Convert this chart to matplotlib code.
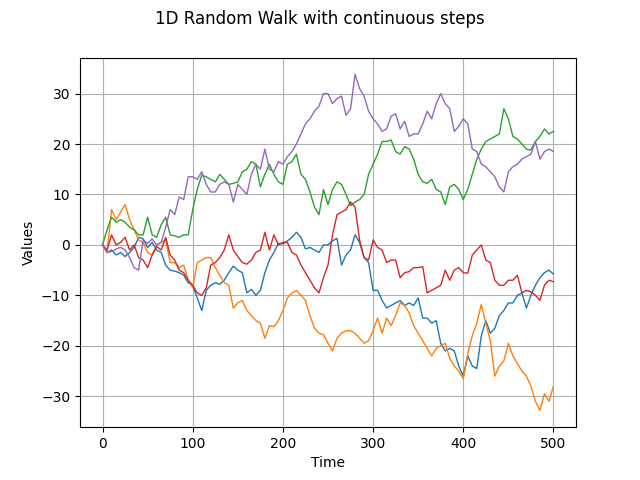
import numpy as np
import matplotlib
matplotlib.use("Agg")
import matplotlib.pyplot as plt

time = list(range(0, 501, 5))

walk_blue = [0, -1.5, -1, -2, -1.5, -2.3, -1.5, -0.5, 1.5, 1.2,
             -0.5, 0.5, -1, -1.5, -4, -5, -5.2, -5.5, -6, -7.5,
             -8, -10.5, -13, -9, -8, -7.5, -7.8, -7, -5.5, -4.2,
             -5, -5.5, -9.5, -8.8, -10, -9, -5.5, -3, -1.5, 0.3,
             0.2, 0.8, 1.5, 2.5, 1.5, -0.8, -0.5, -1, -1.5, 0,
             0, 0.8, 1.3, -4, -2, -1, 2, 0.5, -2.5, -3.5,
             -9, -9, -11, -12.5, -12, -11.5, -11, -12, -11.5, -12,
             -10.5, -14.5, -14.5, -15.5, -15, -19.5, -21, -20.5, -21, -24,
             -26, -22, -24, -24.5, -18, -15, -17.5, -16.5, -14, -13,
             -11.5, -11.5, -10, -9.5, -12.5, -10, -8, -6.5, -5.5, -5,
             -5.8]

walk_orange = [0, -1.5, 7, 5, 6.5, 8, 5, 3, 1, 0.5,
               -1.5, -2, 0, 0.5, 1, -3.5, -3.5, -4.5, -4, -7,
               -8.5, -3.5, -3, -2.5, -2.5, -4.5, -6, -7.5, -8, -12.5,
               -11.5, -11, -13, -14, -15, -15.5, -18.5, -16, -16.2, -15,
               -13, -10.5, -9.5, -9, -10, -11, -14, -16.5, -17.5, -17.8,
               -19.5, -21, -18.5, -17.5, -17, -17, -17.5, -18.5, -19.5, -19,
               -17, -14.5, -17.5, -14.5, -16, -14, -11.5, -12, -13.5, -16,
               -17.5, -19, -20.5, -22, -20.5, -20, -19.5, -22.5, -24, -25,
               -26.5, -21.5, -18, -15.5, -11.8, -15.5, -19, -26, -24, -23,
               -19.5, -22, -23.5, -25, -26, -28, -31, -32.8, -29.5, -31,
               -28]

walk_green = [0, 3, 5.5, 4.5, 5, 4.5, 3.5, 3, 2, 2,
              5.5, 2, 1.5, 4, 5.5, 2, 1.8, 1.5, 2, 2,
              7, 11, 13.8, 13.5, 13, 12.5, 14, 13, 12, 12.2,
              12.5, 14.5, 15, 16.5, 16, 11.5, 14, 16, 14, 12.5,
              12, 16, 16.5, 18, 14, 13, 10.5, 7.5, 6, 11,
              8, 11, 12.5, 12, 10, 7.8, 8.5, 9, 10, 14,
              16, 18, 20.5, 20.5, 20.8, 18.5, 18, 19.5, 19, 17,
              14, 12.5, 12.2, 13, 11, 10.5, 8, 11.5, 12, 11,
              9, 11, 14, 17, 19, 20.5, 21, 21.5, 22, 27,
              25, 21.5, 21, 20, 19, 18.8, 20.5, 21.5, 23, 22,
              22.5]

walk_red = [0, -1, 2, 0, 0.5, 1.5, -1, 0, -2.5, -3,
            -4.5, -2, -0.3, -1, 1.5, -2, -3, -5, -5.5, -7,
            -8, -9.5, -10, -8.5, -4, -3.5, -2.5, -1, 2, -1,
            -2.3, -3.5, -3.8, -3, -1.5, -1, 2.5, -1, 2, 0,
            0.5, 0.5, -1.5, -2, -4, -5.5, -7, -8.5, -9.5, -6.5,
            -4, 2, 6, 6.5, 7, 8.5, 7.5, 1, -2.5, -3,
            1, -0.5, -1, -3.5, -3, -3, -6.5, -5.5, -5.3, -4.5,
            -4.5, -4.3, -9.5, -9, -8.5, -8, -5, -7, -5, -4.5,
            -5.5, -5.6, -2, -1, 0, -3, -3.5, -7, -8, -8,
            -7, -7, -6, -9.5, -9, -9.3, -10, -11, -8, -7,
            -7.3]

walk_purple = [0, -1.5, -1.3, -0.8, -0.5, -1, -2.5, -4.5, -5, 1,
               0.3, 1.2, 0, 0.5, 3.5, 7, 6, 9.5, 9, 13.5,
               13.5, 13, 14.5, 12, 10.5, 10.5, 12, 12.5, 12, 8.5,
               12, 11, 10, 14, 16, 15, 19, 15, 14.5, 16.5,
               16, 17.5, 18.5, 20, 22, 24, 25, 26.5, 27.5, 30,
               30, 28, 29, 29.5, 25.7, 27, 33.8, 31, 29.5, 26.5,
               25, 24, 22.5, 23, 25.5, 26, 23, 24.5, 21.5, 22,
               22, 24, 26.5, 25, 28, 30, 28, 27, 22.5, 23.5,
               25, 24, 19, 18.5, 16, 15.5, 14.5, 13.5, 11.5, 10.5,
               14.5, 15.5, 16, 17, 17.5, 18, 20.5, 17, 18.5, 19,
               18.5]

series = [walk_blue, walk_orange, walk_green, walk_red, walk_purple]

fig, ax = plt.subplots(figsize=(6.4, 4.8), dpi=100)
for s in series:
    ax.plot(time, s, linewidth=1.0)
fig.suptitle("1D Random Walk with continuous steps")
ax.set_xlabel("Time")
ax.set_ylabel("Values")
ax.grid(True)
fig.savefig("out.png")
